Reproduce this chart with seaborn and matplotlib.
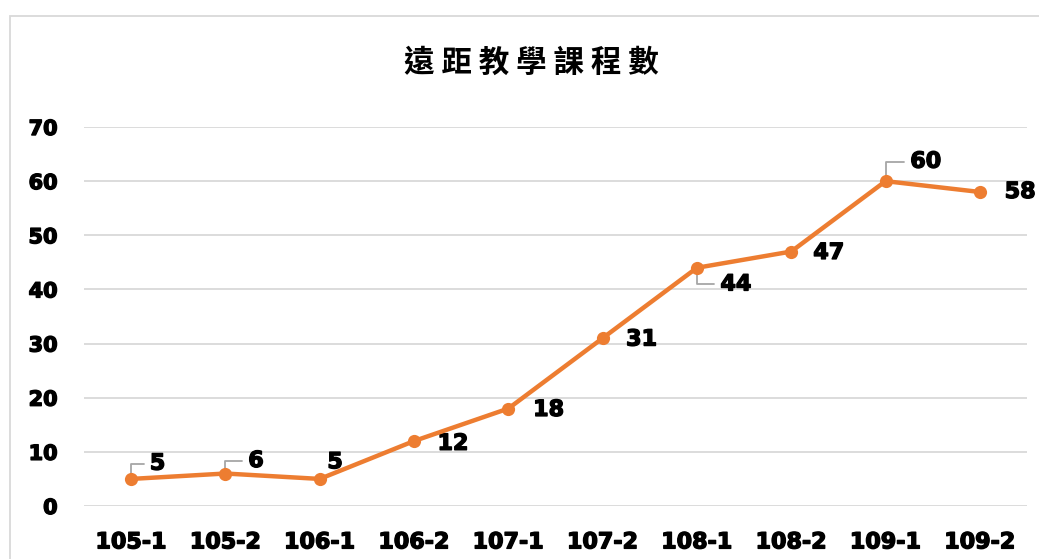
import matplotlib
matplotlib.use("Agg")
import matplotlib.pyplot as plt
import matplotlib.patheffects as pe
from matplotlib.patches import Rectangle
import seaborn as sns
import pandas as pd

# Data
semesters = ["105-1", "105-2", "106-1", "106-2", "107-1",
             "107-2", "108-1", "108-2", "109-1", "109-2"]
courses = [5, 6, 5, 12, 18, 31, 44, 47, 60, 58]
y_ticks = [0, 10, 20, 30, 40, 50, 60, 70]
title = "遠距教學課程數"

# Data-label placement (offset in points) and whether a leader line is drawn
label_offsets = [(19, 11), (22, 9), (11, 12), (28, -2), (29, -1),
                 (28, -1), (28, -12), (27, -1), (29, 14), (29, 0)]
leader_lines = [True, True, False, False, False,
                False, True, False, True, False]

sns.set_theme(style="white")
plt.rcParams["font.family"] = ["DejaVu Sans"]

LINE_COLOR = "#ED7D31"
GRID_COLOR = "#D9D9D9"
LEADER_COLOR = "#A6A6A6"
heavy = [pe.withStroke(linewidth=1.0, foreground="black")]

fig = plt.figure(figsize=(10.39, 5.59), dpi=100)
fig.patch.set_facecolor("white")

# chart-area frame
fig.patches.append(Rectangle((10 / 1039, -0.1), 1.2, 1 - 16 / 559 + 0.1,
                             transform=fig.transFigure, fill=False,
                             edgecolor=GRID_COLOR, linewidth=1.3, zorder=0))

ax = fig.add_axes([84 / 1039, 1 - 506 / 559, (1027 - 84) / 1039, (506 - 127) / 559])
ax.set_facecolor("none")

df = pd.DataFrame({"semester": semesters, "courses": courses})
sns.lineplot(data=df, x="semester", y="courses", ax=ax, sort=False,
             color=LINE_COLOR, linewidth=3.2, marker="o", markersize=9.5,
             markeredgewidth=0, zorder=3)

ax.set_xlim(-0.5, len(semesters) - 0.5)
ax.set_ylim(0, 70)
ax.set_yticks(y_ticks)
ax.set_xlabel("")
ax.set_ylabel("")
for s in ax.spines.values():
    s.set_visible(False)
ax.yaxis.grid(True, color=GRID_COLOR, linewidth=1.3)
ax.xaxis.grid(False)
ax.set_axisbelow(True)

ax.tick_params(axis="x", length=0, pad=19, labelsize=16, labelcolor="black")
ax.tick_params(axis="y", length=0, pad=19, labelsize=15, labelcolor="black")
for lbl in ax.get_xticklabels() + ax.get_yticklabels():
    lbl.set_fontweight("bold")
    lbl.set_path_effects(heavy)

# data labels
for i, (v, (dx, dy), lead) in enumerate(zip(courses, label_offsets, leader_lines)):
    arrow = None
    if lead:
        arrow = dict(arrowstyle="-", color=LEADER_COLOR, linewidth=1.3,
                     shrinkA=2, shrinkB=0,
                     connectionstyle="angle,angleA=0,angleB=90,rad=0")
    t = ax.annotate(str(v), xy=(i, v), xytext=(dx, dy), textcoords="offset points",
                    ha="center", va="center", fontsize=16, fontweight="bold",
                    color="black", arrowprops=arrow, zorder=2)
    t.set_path_effects(heavy)

fig.text(531 / 1039, 1 - 63 / 559, " ".join(title), ha="center", va="center",
         fontsize=22, fontweight="bold", color="black",
         family=["Noto Sans CJK TC", "DejaVu Sans"])

fig.savefig("out.png", dpi=100, facecolor="white")
